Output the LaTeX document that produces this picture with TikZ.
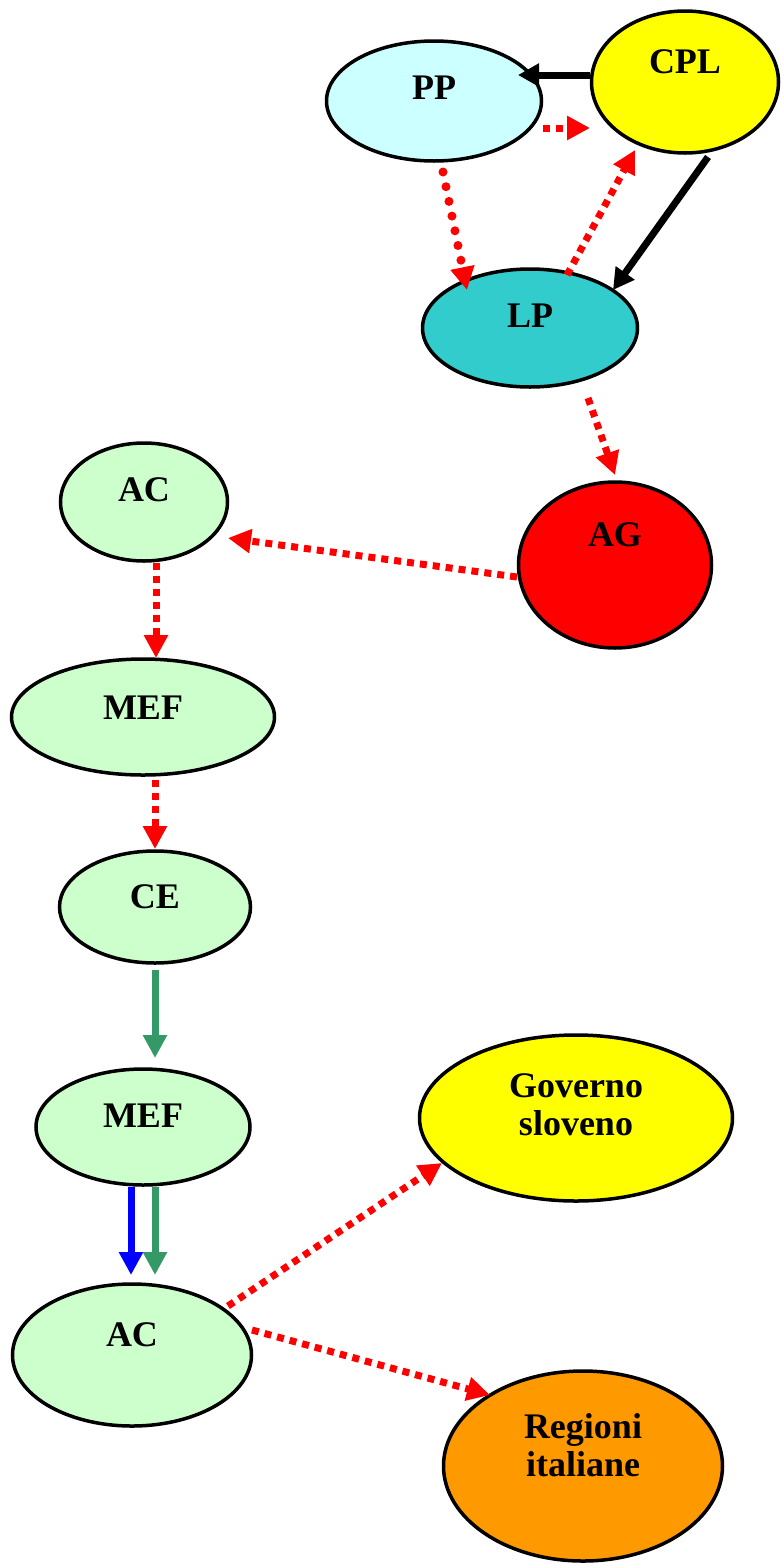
\documentclass[tikz,border=0pt]{standalone}
\usepackage{fontspec}
\setmainfont{Liberation Serif}
\usetikzlibrary{shapes.geometric,arrows.meta,calc}

\definecolor{ppfill}{HTML}{CCFFFF}
\definecolor{cplfill}{HTML}{FFFF00}
\definecolor{lpfill}{HTML}{33CCCC}
\definecolor{acfill}{HTML}{CCFFCC}
\definecolor{rifill}{HTML}{FF9900}
\definecolor{arrgreen}{HTML}{339966}

\begin{document}
\begin{tikzpicture}[x=1pt,y=-1pt,
  ell/.style={ellipse,draw=black,line width=3.5pt,inner sep=0pt},
  every label/.style={font=\bfseries\fontsize{36}{38}\selectfont,align=center,inner sep=0pt},
  blk/.style={black,line width=7pt,-{Triangle[length=21pt,width=22pt]}},
  reddash/.style={red,line width=7pt,dash pattern=on 7pt off 6pt,-{Triangle[length=23pt,width=23pt]}},
  reddot/.style={red,line width=9pt,line cap=round,dash pattern=on 0pt off 15pt,-{Triangle[length=23pt,width=23pt]}},
  solidarr/.style={line width=7pt,-{Triangle[length=23pt,width=23pt]}}]
\useasboundingbox (0,0) rectangle (780,1564);

% nodes
\node[ell,fill=ppfill,minimum width=215,minimum height=120,label={[yshift=13pt]center:PP}] (PP) at (434,101) {};
\node[ell,fill=cplfill,minimum width=187,minimum height=142,label={[yshift=20pt]center:CPL}] (CPL) at (685,82) {};
\node[ell,fill=lpfill,minimum width=215,minimum height=118,label={[yshift=12pt]center:LP}] (LP) at (530,328) {};
\node[ell,fill=red,minimum width=193,minimum height=166,label={[yshift=30pt]center:AG}] (AG) at (615,565) {};
\node[ell,fill=acfill,minimum width=167,minimum height=118,label={[yshift=12pt]center:AC}] (ACa) at (144,502) {};
\node[ell,fill=acfill,minimum width=263,minimum height=116,label={[yshift=9pt]center:MEF}] (MEFa) at (143,717) {};
\node[ell,fill=acfill,minimum width=191,minimum height=112,label={[yshift=10pt]center:CE}] (CE) at (155,907) {};
\node[ell,fill=acfill,minimum width=214,minimum height=116,label={[yshift=11pt]center:MEF}] (MEFb) at (143,1127) {};
\node[ell,fill=acfill,minimum width=239,minimum height=142,label={[yshift=20pt]center:AC}] (ACb) at (132,1355) {};
\node[ell,fill=cplfill,minimum width=313,minimum height=166,label={[yshift=13pt]center:Governo\\sloveno}] (GS) at (576,1118) {};
\node[ell,fill=rifill,minimum width=279,minimum height=190,label={[yshift=21pt]center:Regioni\\italiane}] (RI) at (583,1466) {};

% connectors
\draw[blk] ($(CPL)+(-95,-7)$) -- ($(PP)+(84,-26)$);
\draw[blk] ($(CPL)+(23,75)$) -- ($(LP)+(83,-38)$);
\draw[reddash] ($(PP)+(109,27)$) -- ($(CPL)+(-95,46)$);
\draw[reddot] ($(PP)+(9,71)$) -- ($(LP)+(-63,-38)$);
\draw[reddash] ($(LP)+(37,-53)$) -- ($(CPL)+(-50,68)$);
\draw[reddash] ($(LP)+(58,70)$) -- ($(AG)+(0,-90)$);
\draw[reddash] ($(AG)+(-98,12)$) -- ($(ACa)+(84,36)$);
\draw[reddash] ($(ACa)+(12,61)$) -- ($(MEFa)+(13,-59)$);
\draw[reddash] ($(MEFa)+(12,63)$) -- ($(CE)+(0,-58)$);
\draw[solidarr,arrgreen] ($(CE)+(0,63)$) -- ($(MEFb)+(12,-69)$);
\draw[solidarr,blue] ($(MEFb)+(-12,60)$) -- ($(ACb)+(-1,-80)$);
\draw[solidarr,arrgreen] ($(MEFb)+(12,60)$) -- ($(ACb)+(23,-80)$);
\draw[reddash] ($(ACb)+(96,-49)$) -- ($(GS)+(-134,45)$);
\draw[reddash] ($(ACb)+(120,-25)$) -- ($(RI)+(-93,-71)$);
\end{tikzpicture}
\end{document}
